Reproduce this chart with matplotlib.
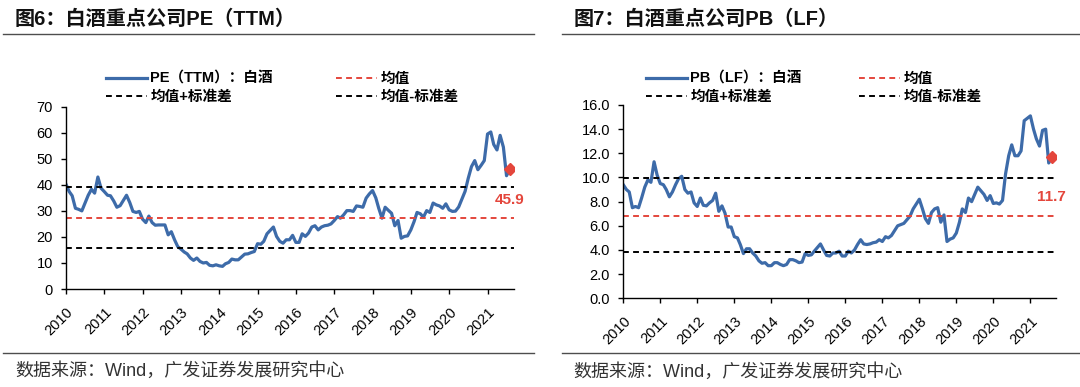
import matplotlib
matplotlib.use("Agg")
import matplotlib.pyplot as plt
import matplotlib.dates as mdates
import pandas as pd
from matplotlib.lines import Line2D

plt.rcParams['font.family'] = ['Liberation Sans', 'Noto Sans CJK SC']

# monthly PE (TTM) of key baijiu companies, 2010-01 .. 2021-08
pe_values = [
    40.2, 37.4, 35.8, 31.0, 30.6, 30.0, 33.0, 36.0, 38.3, 36.8, 43.0, 38.7,
    37.4, 36.0, 35.8, 33.8, 31.4, 32.0, 34.0, 36.0, 33.2, 29.8, 29.4, 29.8,
    26.8, 25.5, 28.0, 25.5, 24.5, 24.6, 24.6, 24.6, 20.8, 22.0, 18.9, 16.3,
    15.3, 14.2, 13.5, 11.9, 11.0, 11.9, 10.6, 10.0, 10.2, 9.1, 8.9, 9.3,
    8.9, 8.7, 9.7, 10.2, 11.5, 11.2, 11.2, 12.3, 13.4, 13.5, 14.0, 14.4,
    17.4, 17.2, 18.3, 21.2, 22.5, 23.8, 20.2, 18.3, 17.6, 18.9, 18.9, 20.6,
    17.9, 17.9, 21.2, 20.2, 21.5, 23.8, 24.3, 22.7, 23.8, 24.3, 24.5, 25.0,
    26.3, 27.8, 27.2, 28.5, 30.1, 30.1, 29.8, 31.9, 31.7, 31.4, 34.9, 36.5,
    37.8, 35.0, 31.0, 27.2, 31.4, 30.2, 29.1, 24.3, 26.3, 19.5, 20.2, 20.4,
    22.7, 25.9, 29.4, 28.9, 27.6, 30.1, 29.4, 33.0, 32.3, 31.9, 31.0, 32.7,
    30.4, 29.8, 29.9, 31.5, 34.5, 37.5, 42.5, 47.0, 49.3, 45.8, 47.5, 49.3,
    59.5, 60.3, 55.5, 53.4, 59.0, 54.5, 43.5, 45.9,
]

# monthly PB (LF), 2010-01 .. 2021-08
pb_values = [
    9.4, 9.0, 8.8, 7.5, 7.6, 7.5, 8.3, 9.2, 9.8, 9.6, 11.3, 10.2,
    9.5, 9.4, 9.0, 8.4, 8.8, 9.4, 9.9, 10.1, 9.0, 8.7, 8.8, 7.9,
    7.6, 8.3, 7.7, 7.65, 7.9, 8.1, 8.7, 7.2, 7.65, 7.05, 5.9, 5.9,
    5.1, 5.0, 4.45, 3.7, 4.1, 4.1, 3.75, 3.5, 3.1, 2.9, 2.95, 2.7,
    2.7, 2.95, 2.95, 2.8, 2.7, 2.8, 3.2, 3.2, 3.1, 2.95, 3.0, 3.7,
    3.55, 3.6, 3.9, 4.2, 4.5, 4.0, 3.55, 3.5, 3.75, 3.75, 3.9, 3.5,
    3.5, 3.9, 3.75, 4.0, 4.45, 4.85, 4.5, 4.45, 4.5, 4.6, 4.65, 4.85,
    4.7, 5.1, 5.0, 5.2, 5.6, 6.0, 6.1, 6.2, 6.5, 6.8, 7.4, 7.8,
    8.2, 7.4, 6.6, 6.2, 7.1, 7.4, 7.5, 6.3, 6.9, 4.7, 4.9, 5.0,
    5.4, 6.3, 7.4, 7.1, 8.3, 8.0, 8.6, 9.2, 8.9, 8.6, 8.1, 8.5,
    7.85, 7.9, 7.8, 8.1, 10.3, 11.8, 12.7, 11.8, 11.8, 12.2, 14.7, 14.9,
    15.1, 14.0, 13.2, 12.6, 13.9, 14.0, 11.2, 11.7,
]

pe_lines = [27.3, 39.05, 15.7]   # mean, mean+std, mean-std
pb_lines = [6.82, 9.92, 3.81]

BLUE = '#3D6BA9'
RED = '#E4463C'
DASH = (0, (3, 2.2))

fig = plt.figure(figsize=(10.8, 3.87), dpi=100)


def panel(rect, values, lines, name, ylim, ystep, fmt, lab_y, leg_xy, colsp):
    ax = fig.add_axes(rect)
    dates = pd.date_range('2010-01-01', periods=len(values), freq='MS')
    ax.plot(dates, values, color=BLUE, lw=2.3, solid_joinstyle='round')
    mean, up, dn = lines
    ax.axhline(up, color='black', lw=1.4, ls=DASH)
    ax.axhline(mean, color=RED, lw=1.4, ls=DASH)
    ax.axhline(dn, color='black', lw=1.4, ls=DASH)
    ax.plot(dates[-1], values[-1], marker='D', color=RED, ms=6.5)
    ax.text(dates[-1], lab_y, '%.1f' % values[-1], color=RED, fontsize=11,
            fontweight='bold', ha='center', va='center')

    ax.set_xlim(pd.Timestamp('2010-01-01'), pd.Timestamp('2021-09-10'))
    ax.set_ylim(*ylim)
    ax.set_yticks([ystep * i for i in range(int(ylim[1] / ystep) + 1)])
    ax.yaxis.set_major_formatter(plt.FuncFormatter(lambda v, p: fmt % v))
    ax.xaxis.set_major_locator(mdates.YearLocator())
    ax.xaxis.set_major_formatter(mdates.DateFormatter('%Y'))
    for s in ['top', 'right']:
        ax.spines[s].set_visible(False)
    for s in ['left', 'bottom']:
        ax.spines[s].set_linewidth(1.0)
    ax.tick_params(axis='both', direction='out', length=3.5, width=1.0,
                   labelsize=10.5, colors='black')
    ax.tick_params(axis='y', pad=6)
    ax.tick_params(axis='x', pad=8)
    for t in ax.get_xticklabels():
        t.set_rotation(45)
        t.set_ha('right')
        t.set_va('top')
        t.set_rotation_mode('anchor')

    handles = [
        Line2D([], [], color=BLUE, lw=2.3),
        Line2D([], [], color='black', lw=1.4, ls=DASH),
        Line2D([], [], color=RED, lw=1.4, ls=DASH),
        Line2D([], [], color='black', lw=1.4, ls=DASH),
    ]
    labels = [name, '均值+标准差', '均值', '均值-标准差']
    ax.legend(handles, labels, ncol=2, loc='upper left',
              bbox_to_anchor=leg_xy, bbox_transform=fig.transFigure,
              frameon=False, borderpad=0, borderaxespad=0,
              handlelength=2.8, handletextpad=0.25, columnspacing=colsp,
              labelspacing=0.25,
              prop={'weight': 'bold', 'size': 10.5,
                    'family': ['Liberation Sans', 'Noto Sans CJK SC']})
    return ax


panel([0.0611, 0.2532, 0.4148, 0.4711], pe_values, pe_lines,
      'PE（TTM）：白酒', (0, 70), 10, '%.0f', 34.0,
      (106 / 1080, 1 - 72 / 387), 4.3)
panel([0.5771, 0.2292, 0.4006, 0.4995], pb_values, pb_lines,
      'PB（LF）：白酒', (0, 16), 2, '%.1f', 8.4,
      (646 / 1080, 1 - 72 / 387), 3.9)

# titles, rules and source notes
fig.text(15 / 1080, 1 - 19 / 387, '图6：白酒重点公司PE（TTM）', fontsize=14.5,
         fontweight='bold', va='center', ha='left', color='#111111')
fig.text(574 / 1080, 1 - 19 / 387, '图7：白酒重点公司PB（LF）', fontsize=14.5,
         fontweight='bold', va='center', ha='left', color='#111111')
for x0, x1 in [(3, 534), (562, 1080)]:
    for yy in [34, 353]:
        fig.add_artist(Line2D([x0 / 1080, x1 / 1080], [1 - yy / 387] * 2,
                              color='#4d4d4d', lw=1.0))
fig.text(15 / 1080, 1 - 371 / 387, '数据来源：Wind，广发证券发展研究中心',
         fontsize=13, va='center', ha='left', color='#333333')
fig.text(573 / 1080, 1 - 372 / 387, '数据来源：Wind，广发证券发展研究中心',
         fontsize=13, va='center', ha='left', color='#333333')

fig.savefig('out.png', dpi=100)
